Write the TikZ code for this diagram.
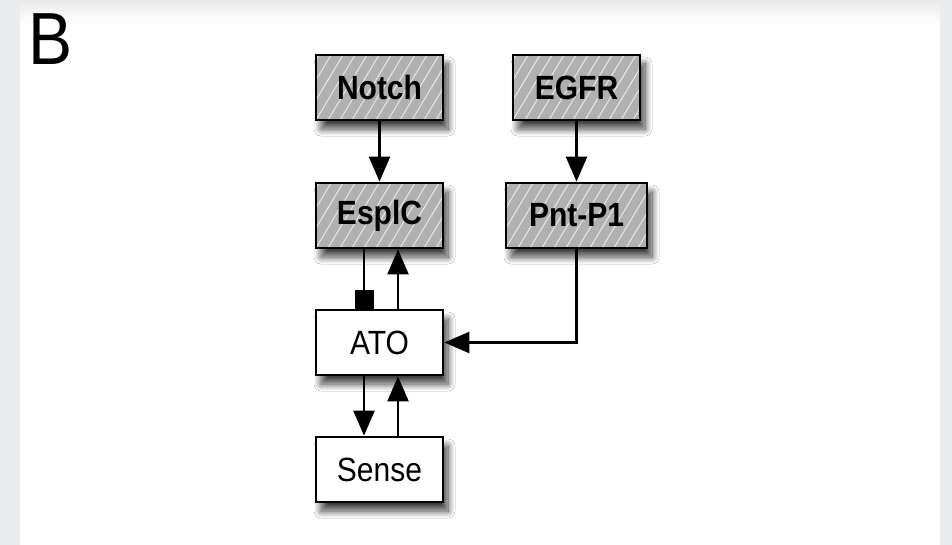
\documentclass[tikz,border=0pt]{standalone}
\usepackage{fontspec}
\setmainfont{Liberation Sans}
\usetikzlibrary{arrows.meta,shadows.blur}

\definecolor{pagegray}{HTML}{EBECEF}
\definecolor{boxgray}{HTML}{B0B0B0}
\definecolor{hatchline}{HTML}{E8E8E8}

% box labels are set slightly taller than wide
\newcommand{\tallbox}[1]{\scalebox{1}[1.12]{#1}}

\tikzset{
  box/.style={draw=black, line width=2.8pt, minimum width=127pt, minimum height=65pt,
    inner sep=0pt, fill=white, font=\fontsize{30}{32}\selectfont,
    blur shadow={shadow xshift=5pt, shadow yshift=-9pt, shadow blur steps=14,
      shadow blur radius=7pt, shadow opacity=75}},
  hatched/.style={box, fill=boxgray, font=\fontsize{30}{32}\selectfont\bfseries,
    path picture={
      \foreach \k in {-8,...,16}{
        \draw[hatchline, line width=1pt]
          ([xshift=\k*12pt]path picture bounding box.south west) -- ++(45pt,75pt);
      }}},
  link/.style={line width=2.5pt},
  act/.style={link, -{Triangle[length=25pt,width=21pt]}},
  inh/.style={link, -{Square[length=19pt,width=19pt]}}
}

\begin{document}
\begin{tikzpicture}[x=1pt,y=-1pt]
  % page frame
  \useasboundingbox (0,0) rectangle (952,545);
  \fill[pagegray] (0,0) rectangle (952,545);
  \fill[white] (20,0) rectangle (940,545);
  \shade[top color=gray!16, bottom color=white] (20,0) rectangle (940,24);

  % panel letter
  \node[font=\fontsize{66}{70}\selectfont, yscale=1.12, inner sep=0pt] (lbl) at (51,39) {B};

  % signalling components
  \node[hatched] (notch) at (379.5,87.5) {\tallbox{Notch}};
  \node[hatched] (egfr)  at (576.5,87.5) {\tallbox{EGFR}};
  \node[hatched] (espl)  at (379.5,215.5) {\tallbox{EsplC}};
  \node[hatched, minimum width=141pt] (pnt) at (576.5,215.5) {\tallbox{Pnt-P1}};
  \node[box] (ato)   at (379.5,342.5) {\tallbox{ATO}};
  \node[box] (sense) at (379.5,469.5) {\tallbox{Sense}};

  % interactions
  \draw[act] (notch) -- (espl);
  \draw[act] (egfr) -- (pnt);
  \draw[inh] ([xshift=-15.5pt]espl.south) -- ([xshift=-15.5pt]ato.north);
  \draw[act] ([xshift=18.5pt]ato.north) -- ([xshift=18.5pt]espl.south);
  \draw[act] (pnt.south) |- (ato.east);
  \draw[act] ([xshift=-15.5pt]ato.south) -- ([xshift=-15.5pt]sense.north);
  \draw[act] ([xshift=18.5pt]sense.north) -- ([xshift=18.5pt]ato.south);
\end{tikzpicture}
\end{document}
